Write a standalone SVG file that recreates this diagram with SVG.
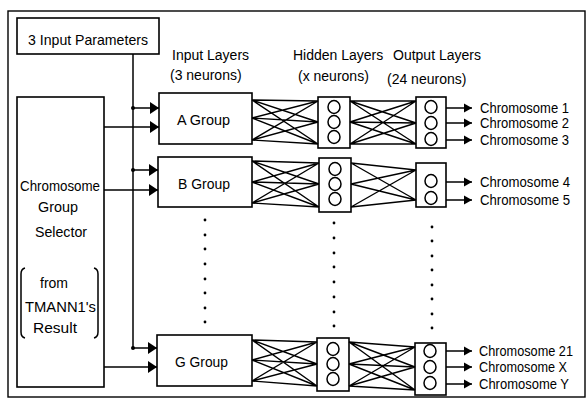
<svg xmlns="http://www.w3.org/2000/svg" width="587" height="405" viewBox="0 0 587 405">
<style>
  .box { fill: #fff; stroke: #000; stroke-width: 1.6; }
  .frame { fill: none; stroke: #000; stroke-width: 1.4; }
  .t { font-family: "Liberation Sans", Arial, sans-serif; font-size: 15px; fill: #000; }
  .c { font-family: "Liberation Sans", Arial, sans-serif; font-size: 14px; fill: #000; }
  .h { font-family: "Liberation Sans", Arial, sans-serif; font-size: 14px; fill: #000; }
  .ln { fill: none; stroke: #000; stroke-width: 1.5; }
  .web { fill: none; stroke: #000; stroke-width: 1.4; }
  .n { fill: #fff; stroke: #000; stroke-width: 1.5; }
  .dot { fill: #000; }
</style>
<defs>
  <marker id="ah" markerUnits="userSpaceOnUse" markerWidth="10" markerHeight="12" refX="9" refY="6" orient="auto">
    <path d="M0 0 L9 6 L0 12 Z" fill="#000"/>
  </marker>
  <marker id="ao" markerUnits="userSpaceOnUse" markerWidth="9" markerHeight="10" refX="8" refY="5" orient="auto">
    <path d="M0 0.5 L8 5 L0 9.5 Z" fill="#000"/>
  </marker>
</defs>
<rect fill="#fff" x="0" y="0" width="587" height="405"/>
<rect class="frame" x="8" y="11" width="577" height="386"/>

<g id="input-params">
  <rect class="box" x="17" y="18" width="142" height="36"/>
  <text class="t" x="28" y="45" textLength="120" lengthAdjust="spacingAndGlyphs">3 Input Parameters</text>
</g>

<g id="selector">
  <rect class="box" x="17" y="97" width="87" height="290"/>
  <text class="t" x="20" y="191" textLength="80" lengthAdjust="spacingAndGlyphs">Chromosome</text>
  <text class="t" x="38" y="212" textLength="40" lengthAdjust="spacingAndGlyphs">Group</text>
  <text class="t" x="35" y="237" textLength="52" lengthAdjust="spacingAndGlyphs">Selector</text>
  <path class="ln" d="M25 268 Q21 269 21 274 L21 332 Q21 337 25 338"/>
  <path class="ln" d="M94 268 Q98 269 98 274 L98 332 Q98 337 94 338"/>
  <text class="t" x="40" y="288" textLength="28" lengthAdjust="spacingAndGlyphs">from</text>
  <text class="t" x="25" y="312" textLength="71" lengthAdjust="spacingAndGlyphs">TMANN1's</text>
  <text class="t" x="33" y="333" textLength="44" lengthAdjust="spacingAndGlyphs">Result</text>
</g>

<g id="headers">
  <text class="h" x="172" y="60">Input Layers</text>
  <text class="h" x="170" y="80">(3 neurons)</text>
  <text class="h" x="293" y="60">Hidden Layers</text>
  <text class="h" x="298" y="81">(x neurons)</text>
  <text class="h" x="393" y="60">Output Layers</text>
  <text class="h" x="387" y="84">(24 neurons)</text>
</g>

<g id="group-a">
  <rect class="box" x="159" y="93" width="93" height="51"/>
  <text class="t" x="177" y="125" textLength="53" lengthAdjust="spacingAndGlyphs">A Group</text>
</g>
<g id="group-b">
  <rect class="box" x="158" y="157" width="94" height="50"/>
  <text class="t" x="178" y="189" textLength="52" lengthAdjust="spacingAndGlyphs">B Group</text>
</g>
<g id="group-g">
  <rect class="box" x="157" y="335" width="95" height="51"/>
  <text class="t" x="175" y="367" textLength="53" lengthAdjust="spacingAndGlyphs">G Group</text>
</g>

<g id="hidden-a">
  <rect class="box" x="318" y="97" width="32" height="51"/>
  <ellipse class="n" cx="334" cy="107" rx="6" ry="6.5"/>
  <ellipse class="n" cx="334" cy="122" rx="6" ry="6.5"/>
  <ellipse class="n" cx="334" cy="137" rx="6" ry="6.5"/>
</g>
<g id="hidden-b">
  <rect class="box" x="319" y="158" width="32" height="54"/>
  <ellipse class="n" cx="335" cy="169" rx="6" ry="6.5"/>
  <ellipse class="n" cx="335" cy="184" rx="6" ry="6.5"/>
  <ellipse class="n" cx="335" cy="199" rx="6" ry="6.5"/>
</g>
<g id="hidden-g">
  <rect class="box" x="317" y="338" width="32" height="53"/>
  <ellipse class="n" cx="333" cy="349" rx="6" ry="6.5"/>
  <ellipse class="n" cx="333" cy="364" rx="6" ry="6.5"/>
  <ellipse class="n" cx="333" cy="379" rx="6" ry="6.5"/>
</g>

<g id="output-a">
  <rect class="box" x="416" y="97" width="30" height="51"/>
  <ellipse class="n" cx="431" cy="107" rx="6" ry="6.5"/>
  <ellipse class="n" cx="431" cy="123" rx="6" ry="6.5"/>
  <ellipse class="n" cx="431" cy="139" rx="6" ry="6.5"/>
</g>
<g id="output-b">
  <rect class="box" x="416" y="163" width="30" height="44"/>
  <ellipse class="n" cx="431" cy="181" rx="6" ry="6.5"/>
  <ellipse class="n" cx="431" cy="198" rx="6" ry="6.5"/>
</g>
<g id="output-g">
  <rect class="box" x="415" y="343" width="31" height="52"/>
  <ellipse class="n" cx="430" cy="351" rx="6" ry="6.5"/>
  <ellipse class="n" cx="430" cy="367" rx="6" ry="6.5"/>
  <ellipse class="n" cx="430" cy="383" rx="6" ry="6.5"/>
</g>

<g id="labels">
  <text class="c" x="480" y="113" textLength="89" lengthAdjust="spacingAndGlyphs">Chromosome  1</text>
  <text class="c" x="480" y="128" textLength="89" lengthAdjust="spacingAndGlyphs">Chromosome  2</text>
  <text class="c" x="480" y="145" textLength="89" lengthAdjust="spacingAndGlyphs">Chromosome  3</text>
  <text class="c" x="480" y="187" textLength="90" lengthAdjust="spacingAndGlyphs">Chromosome  4</text>
  <text class="c" x="480" y="205" textLength="90" lengthAdjust="spacingAndGlyphs">Chromosome  5</text>
  <text class="c" x="479" y="356" textLength="94" lengthAdjust="spacingAndGlyphs">Chromosome 21</text>
  <text class="c" x="479" y="372" textLength="88" lengthAdjust="spacingAndGlyphs">Chromosome X</text>
  <text class="c" x="479" y="389" textLength="90" lengthAdjust="spacingAndGlyphs">Chromosome Y</text>
</g>

<g id="ellipsis">
  <circle class="dot" cx="205" cy="220" r="1.4"/><circle class="dot" cx="205" cy="235" r="1.4"/>
  <circle class="dot" cx="205" cy="249" r="1.4"/><circle class="dot" cx="205" cy="264" r="1.4"/>
  <circle class="dot" cx="205" cy="279" r="1.4"/><circle class="dot" cx="205" cy="293" r="1.4"/>
  <circle class="dot" cx="205" cy="308" r="1.4"/><circle class="dot" cx="205" cy="322" r="1.4"/>
  <circle class="dot" cx="334" cy="223" r="1.4"/><circle class="dot" cx="334" cy="238" r="1.4"/>
  <circle class="dot" cx="334" cy="253" r="1.4"/><circle class="dot" cx="334" cy="267" r="1.4"/>
  <circle class="dot" cx="334" cy="282" r="1.4"/><circle class="dot" cx="334" cy="297" r="1.4"/>
  <circle class="dot" cx="334" cy="312" r="1.4"/><circle class="dot" cx="334" cy="326" r="1.4"/>
  <circle class="dot" cx="432" cy="227" r="1.4"/><circle class="dot" cx="432" cy="241" r="1.4"/>
  <circle class="dot" cx="432" cy="256" r="1.4"/><circle class="dot" cx="432" cy="270" r="1.4"/>
  <circle class="dot" cx="432" cy="285" r="1.4"/><circle class="dot" cx="432" cy="299" r="1.4"/>
  <circle class="dot" cx="432" cy="314" r="1.4"/><circle class="dot" cx="432" cy="328" r="1.4"/>
</g>

<g id="connectors">
  <path class="ln" d="M133 54 L133 348"/>
  <circle class="dot" cx="133" cy="108" r="2"/>
  <circle class="dot" cx="133" cy="170" r="2"/>
  <circle class="dot" cx="133" cy="348" r="2"/>
  <path class="ln" d="M133 108 L159 108" marker-end="url(#ah)"/>
  <path class="ln" d="M133 170 L158 170" marker-end="url(#ah)"/>
  <path class="ln" d="M133 348 L157 348" marker-end="url(#ah)"/>
  <path class="ln" d="M104 127 L159 127" marker-end="url(#ah)"/>
  <path class="ln" d="M104 190 L158 190" marker-end="url(#ah)"/>
  <path class="ln" d="M104 367 L157 367" marker-end="url(#ah)"/>

  <path class="web" d="M252 100L318 101M252 100L318 122M252 100L318 144M252 118L318 101M252 118L318 122M252 118L318 144M252 140L318 101M252 140L318 122M252 140L318 144"/>
  <path class="web" d="M350 101L416 101M350 101L416 123M350 101L416 144M350 122L416 101M350 122L416 123M350 122L416 144M350 144L416 101M350 144L416 123M350 144L416 144"/>
  <path class="web" d="M252 161L319 163M252 161L319 184M252 161L319 207M252 182L319 163M252 182L319 184M252 182L319 207M252 203L319 163M252 203L319 184M252 203L319 207"/>
  <path class="web" d="M351 163L416 170M351 163L416 200M351 184L416 170M351 184L416 200M351 207L416 170M351 207L416 200"/>
  <path class="web" d="M252 340L317 342M252 340L317 364M252 340L317 386M252 360L317 342M252 360L317 364M252 360L317 386M252 381L317 342M252 381L317 364M252 381L317 386"/>
  <path class="web" d="M349 342L415 347M349 342L415 367M349 342L415 390M349 364L415 347M349 364L415 367M349 364L415 390M349 386L415 347M349 386L415 367M349 386L415 390"/>

  <path class="ln" d="M446 108 L472 108" marker-end="url(#ao)"/>
  <path class="ln" d="M446 123 L472 123" marker-end="url(#ao)"/>
  <path class="ln" d="M446 140 L472 140" marker-end="url(#ao)"/>
  <path class="ln" d="M446 182 L472 182" marker-end="url(#ao)"/>
  <path class="ln" d="M446 200 L472 200" marker-end="url(#ao)"/>
  <path class="ln" d="M446 351 L472 351" marker-end="url(#ao)"/>
  <path class="ln" d="M446 367 L472 367" marker-end="url(#ao)"/>
  <path class="ln" d="M446 384 L472 384" marker-end="url(#ao)"/>
</g>
</svg>
